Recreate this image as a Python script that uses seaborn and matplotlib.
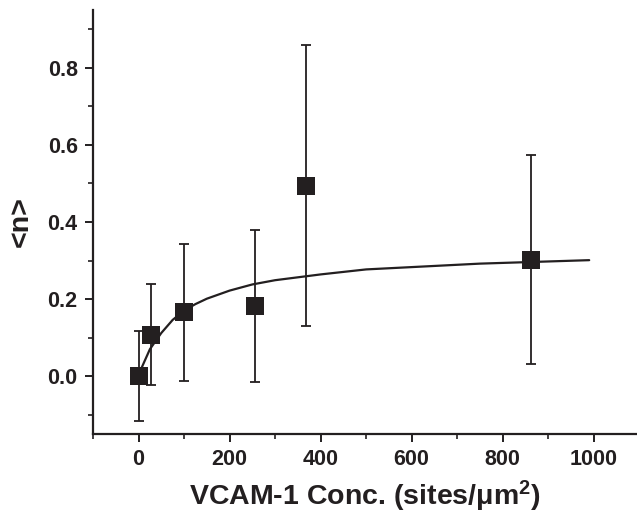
import matplotlib
matplotlib.use("Agg")
import matplotlib.pyplot as plt
import seaborn as sns
import numpy as np
import pandas as pd
from matplotlib.ticker import MultipleLocator

# Measured points
conc = [0, 27, 100, 255, 367, 862]
n_mean = [0.0, 0.107, 0.166, 0.183, 0.494, 0.302]
n_err = [0.117, 0.131, 0.178, 0.197, 0.364, 0.271]

# Fitted curve
fit_x = [5, 25, 50, 75, 100, 125, 150, 200, 250, 300, 400, 500, 750, 990]
fit_y = [0.017, 0.07, 0.112, 0.146, 0.17, 0.187, 0.201, 0.222, 0.238, 0.249, 0.264, 0.277, 0.292, 0.301]

xticks = [0, 200, 400, 600, 800, 1000]
yticks = [0.0, 0.2, 0.4, 0.6, 0.8]

sns.set_style("ticks")
plt.rcParams['font.family'] = ['Liberation Sans', 'DejaVu Sans']
plt.rcParams['font.weight'] = 'bold'
plt.rcParams['mathtext.default'] = 'regular'

INK = '#231f20'

fig = plt.figure(figsize=(6.37, 5.16), dpi=100)
ax = fig.add_axes([93/637, 1 - 434/516, 1 - 93/637, (434 - 10)/516])

pts = pd.DataFrame({'conc': conc, 'n': n_mean})
fit = pd.DataFrame({'x': fit_x, 'y': fit_y})

sns.lineplot(data=fit, x='x', y='y', ax=ax, color=INK, lw=1.6, zorder=2)
ax.errorbar(conc, n_mean, yerr=n_err, fmt='none', ecolor=INK, elinewidth=1.3,
            capsize=3.8, capthick=1.3, zorder=3)
sns.scatterplot(data=pts, x='conc', y='n', ax=ax, marker='s', s=150, color=INK,
                edgecolor=INK, linewidth=0, zorder=4)

ax.set_xlim(-100, 1095)
ax.set_ylim(-0.15, 0.95)
ax.set_xticks(xticks)
ax.set_yticks(yticks)
ax.set_xticklabels([str(v) for v in xticks])
ax.set_yticklabels([f"{v:.1f}" for v in yticks])
ax.xaxis.set_minor_locator(MultipleLocator(100))
ax.yaxis.set_minor_locator(MultipleLocator(0.1))

for s in ['top', 'right']:
    ax.spines[s].set_visible(False)
for s in ['left', 'bottom']:
    ax.spines[s].set_linewidth(1.6)
    ax.spines[s].set_color(INK)

ax.tick_params(which='major', direction='out', length=6, width=1.4, colors=INK,
               labelsize=15.5, pad=5)
ax.tick_params(which='minor', direction='out', length=3.5, width=1.2, colors=INK)
for lab in ax.get_xticklabels() + ax.get_yticklabels():
    lab.set_fontweight('bold')

ax.set_xlabel('VCAM-1 Conc. (sites/μm$^2$)', fontsize=20.5, fontweight='bold',
              color=INK, labelpad=6)
ax.set_ylabel('<n>', fontsize=20.5, fontweight='bold', color=INK, labelpad=10)

fig.savefig('out.png', dpi=100)
